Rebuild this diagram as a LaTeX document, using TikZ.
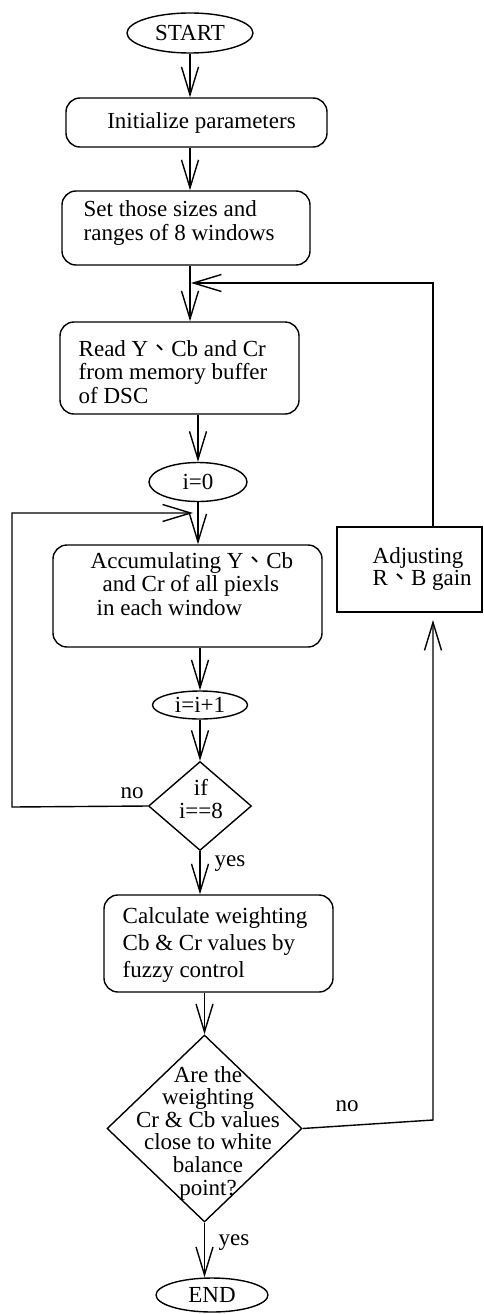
\documentclass[tikz,border=0pt]{standalone}
\usepackage{fontspec}
\setmainfont{Liberation Serif}
\newfontfamily\cjk{Noto Sans CJK TC}
\usetikzlibrary{shapes.geometric,arrows.meta}
\newcommand{\dun}{{\cjk 、}}
\newcommand{\lines}[1]{\begin{tabular}[b]{@{}l@{}}#1\end{tabular}}
\begin{document}
\begin{tikzpicture}[x=1pt,y=-1pt,line width=1.4pt,
  every node/.style={font=\fontsize{23}{23.5}\selectfont},
  term/.style={draw,ellipse,inner sep=0pt},
  rbox/.style={draw,rounded corners=14pt,inner sep=0pt},
  sbox/.style={draw,inner sep=0pt},
  dia/.style={draw,diamond,inner sep=0pt},
  txt/.style={inner sep=0pt,anchor=base west},
  ctxt/.style={inner sep=0pt,align=center,anchor=base},
  lbl/.style={inner sep=0pt,anchor=base},
  arr/.style={-{Straight Barb[length=28pt,width=17pt]}}]
\useasboundingbox (0,0) rectangle (484,1314);
\fill[white] (0,0) rectangle (484,1314);
% nodes
\node[term,minimum width=126pt,minimum height=40pt] (start) at (190,33) {START};
\node[rbox,minimum width=261pt,minimum height=49pt] (init) at (196.5,122.5) {\hspace{10pt}Initialize parameters};
\node[rbox,minimum width=248pt,minimum height=74pt] (set) at (186,228) {};
\node[txt,font=\fontsize{23}{23}\selectfont] (sett) at (83,240) {\lines{Set those sizes and\\ranges of 8 windows}};
\node[rbox,minimum width=239pt,minimum height=92pt] (read) at (179.5,368) {};
\node[txt,font=\fontsize{23}{23}\selectfont] (readt) at (78,403) {\lines{Read Y\dun Cb and Cr\\from memory buffer\\of DSC}};
\node[term,minimum width=98pt,minimum height=39pt] (i0) at (198,482) {i=0};
\node[rbox,minimum width=269pt,minimum height=102pt] (acc) at (187.5,596) {};
\node[txt,font=\fontsize{23}{23.5}\selectfont] (acct) at (90,615) {\lines{Accumulating Y\dun Cb\\\hspace*{12pt}and Cr of all piexls\\\hspace*{6pt}in each window}};
\node[term,minimum width=95pt,minimum height=28pt] (i1) at (200,705) {i=i+1};
\node[dia,minimum width=103pt,minimum height=89pt] (d1) at (200,806) {};
\node[ctxt,font=\fontsize{23}{23}\selectfont] (d1t) at (201,818) {if\\i==8};
\node[rbox,minimum width=229pt,minimum height=97pt] (calc) at (218.5,943.5) {};
\node[txt,font=\fontsize{23}{27}\selectfont] (calct) at (122,977) {\lines{Calculate weighting\\Cb \& Cr values by\\fuzzy control}};
\node[dia,minimum width=195pt,minimum height=187pt] (d2) at (204.5,1128.5) {};
\node[ctxt,font=\fontsize{23}{22.6}\selectfont] (d2t) at (208,1195) {Are the\\weighting\\Cr \& Cb values\\close to white\\balance\\point?};
\node[term,minimum width=112pt,minimum height=34pt] (end) at (212,1295) {END};
\node[sbox,minimum width=145pt,minimum height=85pt] (adj) at (409.5,569.5) {};
\node[txt,font=\fontsize{23}{22}\selectfont] (adjt) at (372,585) {\lines{Adjusting\\R\dun B gain}};
% labels
\node[lbl] (no1) at (132,798) {no};
\node[lbl] (yes1) at (230,866) {yes};
\node[lbl] (no2) at (347,1111) {no};
\node[lbl] (yes2) at (234,1245) {yes};
% coordinates
\coordinate (m1) at (191,283);
\coordinate (r1) at (433,283);
\coordinate (lb) at (12,807);
\coordinate (lt) at (12,513);
\coordinate (li) at (193,513);
\coordinate (r2) at (433,1120);
\coordinate (r3) at (433,620);
% connectors
\draw[arr] (start.south) -- (start.south |- init.north);
\draw[arr] (init.south -| start.south) -- (set.north -| start.south);
\draw[arr] (set.south -| start.south) -- (read.north -| start.south);
\draw[arr] (adj.north -| r1) -- (r1) -- (m1);
\draw[arr] (read.south -| i0.north) -- (i0.north);
\draw[arr] (i0.south) -- (acc.north -| i0.south);
\draw[arr] (acc.south -| i1.north) -- (i1.north);
\draw[arr] (i1.south) -- (d1.north);
\draw[arr] (d1.west) -- (lb) -- (lt) -- (li);
\draw[arr] (d1.south) -- (calc.north -| d1.south);
\draw[arr] (calc.south -| d2.north) -- (d2.north);
\draw[arr] (d2.east) -- (r2) -- (r3);
\draw[arr] (d2.south) -- (end.north -| d2.south);
\end{tikzpicture}
\end{document}
